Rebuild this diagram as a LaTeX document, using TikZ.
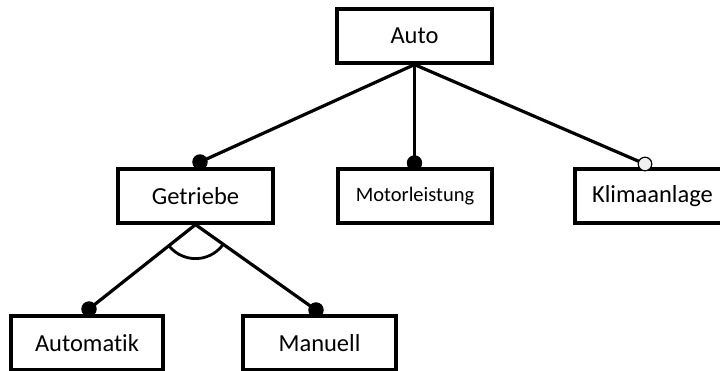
\documentclass[tikz,border=0pt]{standalone}
\usepackage{fontspec}
\setmainfont{Carlito}[Ligatures=NoCommon]
\usetikzlibrary{calc}
\begin{document}
\begin{tikzpicture}[x=1pt, y=-1pt,
  feature/.style={draw=black, line width=3.2pt, fill=white, minimum width=155pt,
    minimum height=54pt, inner sep=0pt, font=\fontsize{24.5}{29}\selectfont},
  link/.style={line width=3.2pt},
  mandatory/.style={fill=black, draw=black, line width=1pt},
  optional/.style={fill=white!94!black, draw=black, line width=1.2pt},
  alternative/.style={line width=2.8pt}]
  \fill[white] (0,0) rectangle (720,370);
  \useasboundingbox (0,0) rectangle (720,370);

  % feature boxes
  \node[feature] (auto) at (414.5,36) {Auto};
  \node[feature] (getriebe) at (195.5,196) {Getriebe};
  \node[feature, minimum width=154pt, font=\fontsize{20.5}{24}\selectfont] (motor) at (415,196) {Motorleistung};
  \node[feature] (klima) at (652.5,196) {Klimaanlage};
  \node[feature, minimum width=152pt] (automatik) at (87,343) {Automatik};
  \node[feature, minimum width=153pt] (manuell) at (319.5,343) {Manuell};

  % attachment points of the connectors
  \coordinate (dGetriebe) at (200,162);
  \coordinate (dMotor) at (414.5,163);
  \coordinate (dKlima) at (645,164);
  \coordinate (dAutomatik) at (89,309);
  \coordinate (dManuell) at (316,310);

  % connectors
  \draw[link] (auto.south) -- (dGetriebe);
  \draw[link] (auto.south) -- (dMotor);
  \draw[link] (auto.south) -- (dKlima);
  \draw[link] (getriebe.south) -- (dAutomatik);
  \draw[link] (getriebe.south) -- (dManuell);

  % alternative group arc
  \draw[alternative] let \p1=($(dAutomatik)-(getriebe.south)$),
                        \p2=($(dManuell)-(getriebe.south)$),
                        \n1={atan2(\y1,\x1)}, \n2={atan2(\y2,\x2)} in
    ($(getriebe.south)+(\n1:34pt)$) arc[start angle=\n1, end angle=\n2, radius=34pt];

  % mandatory / optional markers
  \filldraw[mandatory] (dGetriebe) circle (7.2pt);
  \filldraw[mandatory] (dMotor) circle (7.2pt);
  \filldraw[optional] (dKlima) circle (6.8pt);
  \filldraw[mandatory] (dAutomatik) circle (7.2pt);
  \filldraw[mandatory] (dManuell) circle (7.2pt);
\end{tikzpicture}
\end{document}
